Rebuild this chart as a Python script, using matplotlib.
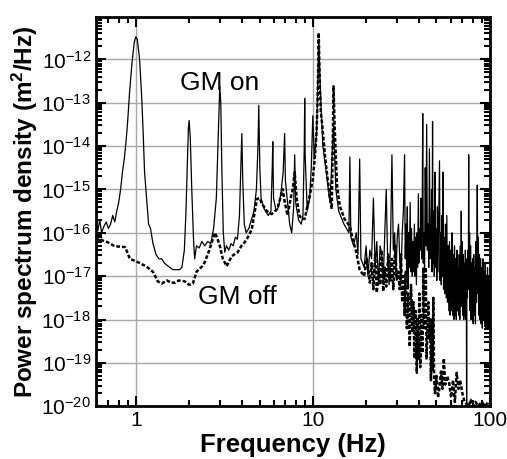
import numpy as np
import matplotlib.pyplot as plt
from matplotlib.ticker import LogLocator, NullFormatter, FormatStrFormatter

plt.rcParams['font.family'] = ['Liberation Sans', 'DejaVu Sans']
plt.rcParams['mathtext.fontset'] = 'custom'
plt.rcParams['mathtext.rm'] = 'Liberation Sans'
plt.rcParams['mathtext.it'] = 'Liberation Sans:italic'
plt.rcParams['mathtext.bf'] = 'Liberation Sans:bold'

# GM on (solid), frequency in Hz and log10 of PSD in m^2/Hz
on_freq_lo = [0.594, 0.61, 0.625, 0.64, 0.66, 0.68, 0.70, 0.72, 0.74, 0.76, 0.78, 0.80, 0.82, 0.84,
              0.86, 0.88, 0.90, 0.92, 0.95, 0.98, 1.0, 1.02, 1.05, 1.08, 1.10, 1.12, 1.15, 1.18,
              1.21, 1.25, 1.30, 1.35, 1.40, 1.45, 1.50, 1.56, 1.62, 1.70, 1.77, 1.82, 1.88, 1.92,
              1.95, 1.98, 2.00, 2.03, 2.07, 2.12, 2.15, 2.20, 2.28, 2.36, 2.45, 2.55, 2.65, 2.75,
              2.85, 2.92, 2.98, 3.02, 3.06, 3.12, 3.18, 3.25, 3.35, 3.45, 3.55, 3.65, 3.75, 3.85,
              3.92, 3.97, 4.02, 4.1, 4.2, 4.35, 4.5, 4.65, 4.8, 4.9, 4.95, 5.02, 5.1, 5.25, 5.4,
              5.6, 5.8, 5.9, 5.94, 6.0, 6.2, 6.4, 6.6, 6.8, 6.93, 7.0, 7.2, 7.4, 7.6, 7.8, 7.9,
              8.0, 8.3, 8.6, 8.8, 8.95, 9.0, 9.05, 9.3, 9.6, 9.8, 10.0, 10.2, 10.5, 10.8, 11.1,
              11.4, 12.0, 12.5, 13.1, 13.5, 14.0, 15.0, 16.0, 16.2, 16.4, 17.0, 17.6, 18.0, 18.4,
              18.7, 19.5, 20.0, 20.5, 21.0, 21.5, 22.0, 22.5, 23.0, 23.5, 24.0, 24.5, 25.0, 25.5,
              26.0, 26.5, 27.0, 27.5, 28.0, 28.5, 29.0, 29.5, 30.0, 30.5, 31.0, 31.5, 32.0, 32.5]
on_logpsd_lo = [-15.75, -15.95, -15.7, -16.0, -15.85, -15.75, -15.9, -15.8, -15.6, -15.75, -15.5, -15.3,
                -15.0, -14.6, -14.3, -13.9, -13.4, -12.8, -12.1, -11.6, -11.48, -11.55, -12.0, -12.9,
                -13.7, -14.6, -15.2, -15.8, -15.9, -16.25, -16.5, -16.6, -16.6, -16.7, -16.75, -16.8,
                -16.85, -16.85, -16.85, -16.8, -16.4, -15.5, -14.5, -13.6, -13.41, -13.8, -15.0, -16.2,
                -16.6, -16.3, -16.35, -16.2, -16.3, -16.2, -16.25, -15.9, -15.2, -13.8, -12.62, -13.0,
                -14.5, -16.0, -16.45, -16.3, -16.4, -16.25, -16.3, -16.1, -16.15, -15.6, -14.5, -13.71,
                -14.8, -15.8, -16.0, -15.9, -15.7, -15.5, -15.0, -14.0, -13.06, -14.5, -15.2, -15.4,
                -15.5, -15.6, -15.5, -14.5, -13.9, -15.2, -15.5, -15.4, -15.1, -14.6, -13.71, -14.8,
                -15.3, -15.8, -16.0, -15.4, -14.2, -15.3, -15.7, -15.8, -15.6, -14.0, -12.9, -14.2,
                -15.5, -15.2, -14.5, -13.3, -14.3, -13.7, -11.6, -13.0, -14.0, -14.7, -15.3, -13.5,
                -15.0, -15.5, -15.8, -16.0, -14.25, -16.1, -16.3, -16.0, -16.5, -14.3, -16.6, -16.8,
                -16.3, -17.0, -16.4, -16.6, -15.2, -16.8, -16.2, -17.2, -16.3, -16.5, -17.1, -16.0,
                -15.0, -16.7, -17.2, -16.2, -14.2, -16.4, -16.0, -17.0, -16.1, -15.8, -16.6, -17.1,
                -16.0, -15.5]
on_freq_hi = [33.0, 33.3, 33.6, 33.9, 34.2, 34.5, 34.8, 35.1, 35.5, 35.8,
              36.1, 36.5, 36.8, 37.1, 37.5, 37.8, 38.1, 38.5, 38.8, 39.1,
              39.5, 39.8, 40.1, 40.5, 40.8, 41.2, 41.5, 41.8, 42.1, 42.5,
              42.8, 43.2, 43.6, 44.0, 44.4, 44.8, 45.2, 45.6, 46.0, 46.5,
              46.9, 47.2, 47.5, 47.8, 48.2, 48.6, 49.0, 49.4, 49.8, 50.2,
              50.6, 51.0, 51.5, 52.0, 52.4, 52.8, 53.2, 53.7, 54.1, 54.4,
              54.8, 55.3, 55.8, 56.2, 56.7, 57.2, 57.7, 58.2, 58.7, 59.2,
              59.7, 60.2, 60.7, 61.2, 61.7, 62.2, 62.7, 63.2, 63.7, 64.2,
              64.7, 65.2, 65.7, 66.2, 66.7, 67.2, 67.7, 68.2, 68.7, 69.0,
              69.4, 69.8, 70.3, 70.8, 71.3, 71.8, 72.3, 72.8, 73.3, 73.7,
              74.0, 74.3, 74.8, 75.3, 75.7, 76.0, 76.4, 76.9, 77.4, 77.9,
              78.4, 78.9, 79.5, 80.0, 80.6, 81.2, 81.8, 82.4, 83.0, 83.6,
              84.2, 85.0, 85.6, 86.2, 86.8, 87.4, 88.0, 88.7, 89.4, 90.1,
              90.8, 91.5, 92.2, 92.9, 93.6, 94.3, 95.0, 95.7, 96.4, 97.1,
              97.8, 98.5, 99.2, 100.0]
on_logpsd_hi = [-14.2, -16.6, -15.8, -16.9, -15.4, -17.3, -16.0, -16.8, -15.3, -16.9,
                -15.9, -17.0, -16.2, -16.9, -15.8, -17.0, -16.1, -17.2, -16.0, -16.8,
                -15.1, -16.7, -15.9, -16.4, -15.2, -16.6, -15.6, -13.25, -16.7, -16.0,
                -16.9, -14.5, -16.3, -13.5, -16.4, -15.8, -16.8, -14.06, -16.6, -16.2,
                -15.0, -16.9, -13.43, -16.7, -15.5, -17.0, -14.6, -16.8, -15.9, -17.1,
                -15.4, -16.9, -15.7, -14.34, -17.1, -16.0, -17.2, -15.6, -17.0, -14.6,
                -17.3, -16.1, -17.4, -15.8, -17.5, -15.6, -17.6, -16.3, -17.8, -16.2,
                -17.9, -16.4, -17.8, -16.0, -17.9, -16.5, -18.0, -16.3, -17.9, -16.6,
                -18.0, -16.4, -17.8, -16.8, -17.9, -16.5, -18.0, -16.3, -17.7, -15.5,
                -17.6, -16.2, -17.9, -16.5, -18.0, -16.7, -17.9, -16.4, -18.0, -16.9,
                -20.0, -16.6, -17.5, -16.4, -17.3, -14.2, -17.2, -16.0, -17.8, -16.3,
                -18.0, -16.7, -18.0, -16.6, -18.1, -16.5, -17.9, -16.8, -18.1, -16.2,
                -17.6, -14.9, -17.4, -16.1, -17.9, -16.5, -18.0, -16.6, -18.1, -16.8,
                -18.2, -16.6, -18.0, -16.9, -18.1, -16.7, -18.2, -17.0, -18.1, -16.8,
                -18.2, -17.0, -18.1, -17.5]

# GM off (dotted)
off_freq = [0.594, 0.65, 0.695, 0.76, 0.87, 0.925, 1.03, 1.15, 1.25, 1.33, 1.4, 1.5, 1.58, 1.66,
            1.75, 1.89, 2.0, 2.1, 2.2, 2.36, 2.45, 2.6, 2.72, 2.8, 2.9, 2.98, 3.1, 3.26, 3.48,
            3.76, 3.95, 4.12, 4.3, 4.52, 4.7, 4.83, 5.0, 5.2, 5.5, 5.85, 6.1, 6.3, 6.55, 6.75,
            6.95, 7.2, 7.5, 7.7, 7.9, 8.1, 8.4, 8.65, 9.0, 9.3, 9.6, 10.0, 10.3, 10.5, 10.65,
            10.8, 10.95, 11.1, 11.4, 11.7, 12.0, 12.5, 12.8, 13.0, 13.1, 13.3, 13.7, 14.2, 15.1,
            16.2, 16.8, 17.5, 18.4, 19.5, 20.2, 21.0, 21.5, 22.0, 22.5, 23.0, 23.5, 24.0, 24.5,
            25.0, 25.5, 26.0, 26.7, 27.5, 28.0, 28.5, 29.2, 29.8, 30.4, 31.0, 31.5, 32.0, 32.5,
            33.0, 33.5, 34.0, 34.6, 35.3, 35.9, 36.5, 37.0, 37.5, 38.1, 38.7, 39.1, 39.5, 40.0,
            40.5, 41.1, 41.7, 42.1, 42.5, 43.0, 43.5, 43.9, 44.3, 45.0, 45.6, 46.0, 46.5, 47.0,
            47.5, 48.0, 48.5, 49.0, 50.0, 51.0, 52.0, 53.0, 54.0, 55.0, 56.0, 57.5, 59.0, 60.5,
            62.0, 63.5, 65.0, 66.5, 68.0, 70.0, 72.0, 74.0, 76.0, 78.0, 80.0, 83.0, 86.0, 90.0,
            94.0, 98.0, 100.0]
off_logpsd = [-16.08, -16.18, -16.22, -16.31, -16.33, -16.6, -16.68, -16.78, -16.9, -17.12, -17.17,
              -17.1, -17.15, -17.15, -17.1, -17.12, -17.2, -17.17, -16.9, -16.78, -16.68, -16.4,
              -16.15, -16.0, -16.15, -16.3, -16.6, -16.77, -16.54, -16.45, -16.3, -16.22, -16.1,
              -15.92, -15.5, -15.22, -15.2, -15.35, -15.5, -15.57, -15.5, -15.45, -15.2, -14.99,
              -15.3, -15.6, -15.2, -15.0, -14.6, -15.2, -15.6, -15.68, -15.68, -15.4, -15.15,
              -14.76, -14.2, -13.67, -12.9, -11.39, -12.6, -13.2, -13.67, -14.2, -14.6, -15.22,
              -15.45, -13.5, -12.62, -13.6, -14.9, -15.38, -15.68, -15.85, -16.15, -16.4, -16.85,
              -17.0, -16.6, -17.15, -16.7, -17.3, -16.5, -17.38, -16.9, -17.2, -16.4, -17.35, -16.8,
              -17.24, -16.5, -17.1, -16.6, -17.3, -16.3, -17.08, -16.9, -17.3, -16.5, -17.6, -17.0,
              -17.9, -16.9, -18.2, -17.4, -18.63, -17.2, -18.3, -17.6, -18.9, -17.8, -19.23, -18.0,
              -18.9, -17.4, -19.1, -17.9, -18.77, -16.8, -18.2, -17.5, -16.8, -18.9, -18.5, -17.6,
              -18.47, -18.0, -19.4, -18.0, -19.2, -17.5, -19.4, -19.7, -19.3, -19.8, -19.56, -19.2,
              -19.6, -18.9, -19.5, -19.3, -19.47, -19.8, -19.4, -19.9, -19.23, -19.6, -19.4, -19.7,
              -19.9, -19.95, -20.0, -19.85, -20.0, -19.9, -20.0, -19.9, -20.0, -19.9, -19.95]

# tick positions
y_major = [1e-20, 1e-19, 1e-18, 1e-17, 1e-16, 1e-15, 1e-14, 1e-13, 1e-12]
x_major = [1, 10, 100]

on_freq = on_freq_lo + on_freq_hi
on_psd = 10.0 ** np.array(on_logpsd_lo + on_logpsd_hi)
off_psd = 10.0 ** np.array(off_logpsd)

fig = plt.figure(figsize=(5.07, 4.59), dpi=100)
ax = fig.add_axes([0.189, 0.115, 0.777, 0.848])

ax.plot(on_freq, on_psd, color="black", linewidth=0.9)
ax.plot(off_freq, off_psd, color="black", linewidth=1.8, linestyle=(0, (1.5, 0.8)))

ax.set_xscale("log")
ax.set_yscale("log")

ax.set_yticks(y_major)
ax.set_xticks(x_major)
ax.yaxis.set_minor_locator(LogLocator(base=10, subs=np.arange(2, 10), numticks=20))
ax.yaxis.set_minor_formatter(NullFormatter())
ax.xaxis.set_major_formatter(FormatStrFormatter("%g"))
ax.xaxis.set_minor_formatter(NullFormatter())

ax.set_xlim(0.594, 100)
ax.set_ylim(1e-20, 9.5e-12)

ax.grid(True, which="major", color="#a8a8a8", linewidth=1.0)
ax.tick_params(which="both", direction="in", top=True, right=True, width=1.5, labelsize=15)
ax.tick_params(which="major", length=7)
ax.tick_params(which="minor", length=4)
for s in ax.spines.values():
    s.set_linewidth(2)

ax.text(0.315, 0.83, "GM on", transform=ax.transAxes, fontsize=19, ha="center", va="center")
ax.text(0.36, 0.28, "GM off", transform=ax.transAxes, fontsize=19, ha="center", va="center")

ax.set_xlabel("Frequency (Hz)", fontsize=18.5, fontweight="bold", labelpad=2)
ax.set_ylabel("Power spectrum density (m$^\\mathbf{2}$/Hz)", fontsize=17.5, fontweight="bold", labelpad=1)

plt.savefig("out.png", dpi=100)
